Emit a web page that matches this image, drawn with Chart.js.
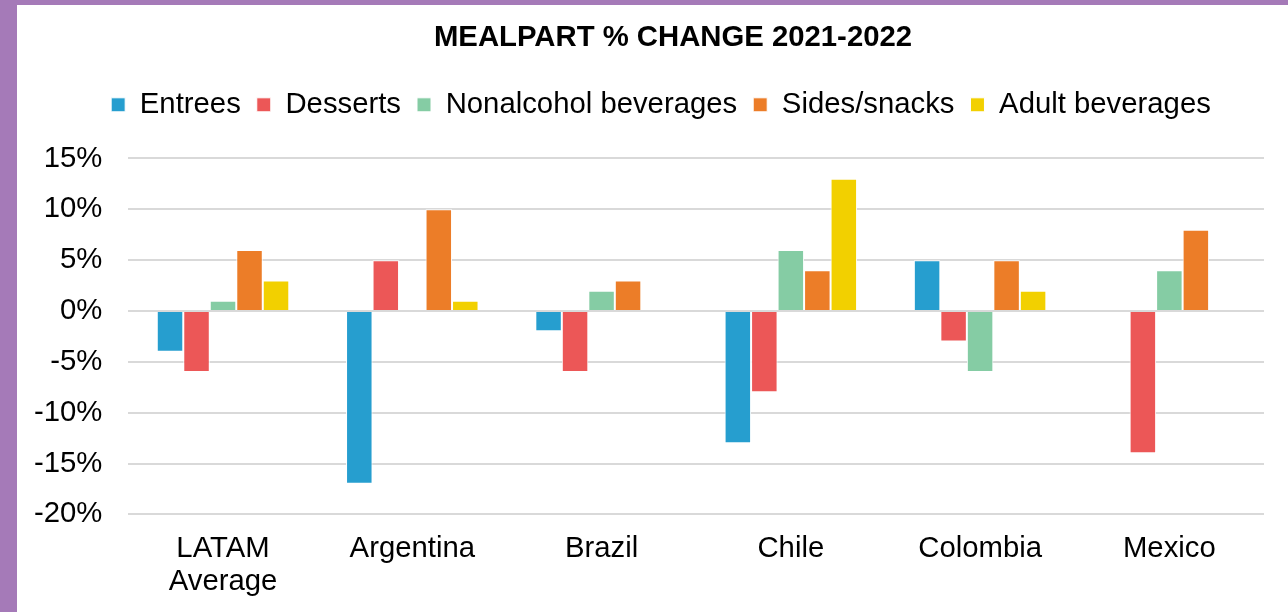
<!DOCTYPE html>
<html>
<head>
<meta charset="utf-8">
<script src="https://cdn.jsdelivr.net/npm/chart.js@4"></script>
<style>
  html, body { margin: 0; padding: 0; }
  body { width: 1288px; height: 612px; background: #a57ab8; position: relative; overflow: hidden; }
  #wrap { position: absolute; left: 17px; top: 5px; width: 1271px; height: 607px; background: #fff; }
</style>
</head>
<body>
<div id="wrap"><canvas id="chart" width="1271" height="607"></canvas></div>
<script>
const countries = [['LATAM', 'Average'], 'Argentina', 'Brazil', 'Chile', 'Colombia', 'Mexico'];
const entrees = [-4, -17, -2, -13, 5, 0];
const desserts = [-6, 5, -6, -8, -3, -14];
const nonalcohol = [1, 0, 2, 6, -6, 4];
const sidesSnacks = [6, 10, 3, 4, 5, 8];
const adultBev = [3, 1, 0, 13, 2, 0];

const font = "'Liberation Sans', Arial, sans-serif";
const fs = 29.3;

function ds(label, data, color) {
  return { label, data, backgroundColor: color, borderColor: '#ffffff', borderWidth: 1 };
}

// extra room under the legend, and nudge title/legend to the right like the original
const tweaks = {
  id: 'tweaks',
  beforeInit(chart) {
    const fit = chart.legend.fit;
    chart.legend.fit = function () {
      fit.bind(chart.legend)();
      this.height += 29;
    };
  },
  afterLayout(chart) {
    chart.titleBlock.left += 74;
    chart.legend.left += 50;
  }
};

new Chart(document.getElementById('chart'), {
  type: 'bar',
  data: {
    labels: countries,
    datasets: [
      ds('Entrees', entrees, '#269ecf'),
      ds('Desserts', desserts, '#ec5757'),
      ds('Nonalcohol beverages', nonalcohol, '#85cca4'),
      ds('Sides/snacks', sidesSnacks, '#ec7d28'),
      ds('Adult beverages', adultBev, '#f2d000')
    ]
  },
  plugins: [tweaks],
  options: {
    responsive: false,
    animation: false,
    layout: { padding: { left: -9, right: 24, top: 15, bottom: -4 } },
    datasets: { bar: { categoryPercentage: 0.7, barPercentage: 1 } },
    plugins: {
      title: {
        display: true,
        text: 'MEALPART % CHANGE 2021-2022',
        color: '#000',
        font: { family: font, size: fs, weight: 'bold' },
        padding: { top: 0, bottom: 19 }
      },
      legend: {
        position: 'top',
        labels: {
          color: '#000',
          font: { family: font, size: fs },
          boxWidth: 14,
          boxHeight: 14,
          padding: 16
        }
      },
      tooltip: { enabled: false }
    },
    scales: {
      x: {
        grid: { display: false, drawTicks: false },
        border: { display: false },
        ticks: { color: '#000', font: { family: font, size: fs, lineHeight: 1.12 }, padding: 18, maxRotation: 0 }
      },
      y: {
        min: -20,
        max: 15,
        grid: { color: '#d9d9d9', lineWidth: 2, drawTicks: false },
        border: { display: false },
        ticks: {
          stepSize: 5,
          color: '#000',
          font: { family: font, size: fs },
          padding: 26,
          callback: v => v + '%'
        }
      }
    }
  }
});
</script>
</body>
</html>
